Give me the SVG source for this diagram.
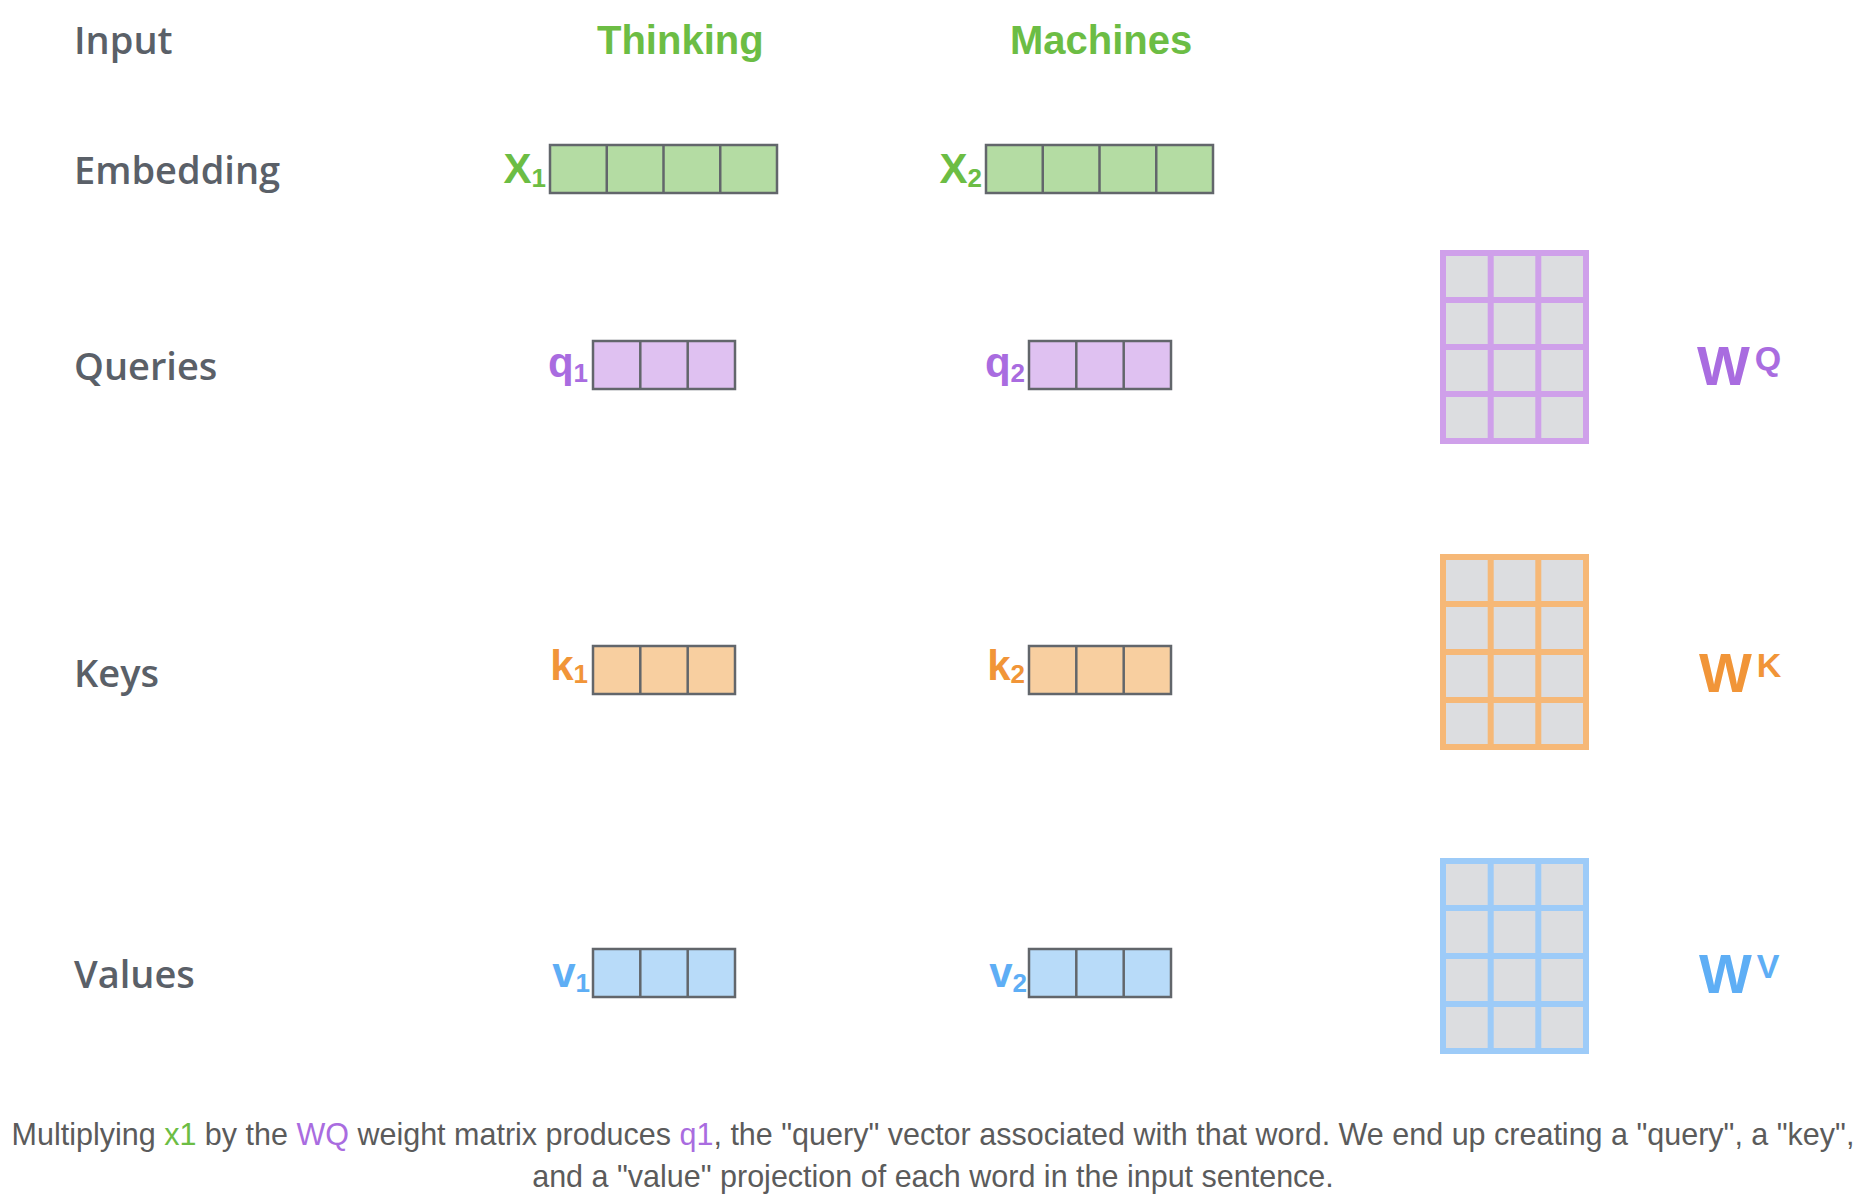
<svg xmlns="http://www.w3.org/2000/svg" width="1868" height="1198" viewBox="0 0 1868 1198">
<style>
.row{font-family:"Open Sans","Liberation Sans",sans-serif;font-weight:600;font-size:38px;fill:#5a6068}
.word{font-family:"Liberation Sans",Arial,sans-serif;font-weight:bold;font-size:40px;fill:#6cbd44}
.lbl{font-family:"Liberation Sans",Arial,sans-serif;font-weight:bold;font-size:42px}
.sub{font-size:26px}
.wl{font-family:"Liberation Sans",Arial,sans-serif;font-weight:bold;font-size:56px}
.sup{font-size:34px}
.vec{stroke:#62666b;stroke-width:2.5}
.grid{stroke:#62666b;stroke-width:2.5}
.g{fill:#b4dca3}.p{fill:#dfc1f1}.o{fill:#f8cfa0}.b{fill:#b8dbf9}
.tg{fill:#6cbd44}.tp{fill:#a96ce0}.to{fill:#f19538}.tb{fill:#5eaef5}
.mat{fill:#dcdde0;stroke-width:6}
.cap{font-family:"Liberation Sans",Arial,sans-serif;font-size:30.5px;fill:#5b5b5b}
</style>

<g id="row-labels">
<text class="row" x="74" y="54">Input</text>
<text class="row" x="74" y="184">Embedding</text>
<text class="row" x="74" y="380">Queries</text>
<text class="row" x="74" y="687">Keys</text>
<text class="row" x="74" y="988">Values</text>
</g>

<g id="word-thinking"><text class="word" x="597" y="54">Thinking</text></g>
<g id="word-machines"><text class="word" x="1010" y="54">Machines</text></g>

<g id="x1">
<rect class="vec g" x="550" y="145" width="227" height="48"/>
<path class="grid" d="M606.75 145V193M663.5 145V193M720.25 145V193"/>
<text class="lbl tg" x="546" y="183" text-anchor="end">X<tspan class="sub" dy="4">1</tspan></text>
</g>
<g id="x2">
<rect class="vec g" x="986" y="145" width="227" height="48"/>
<path class="grid" d="M1042.75 145V193M1099.5 145V193M1156.25 145V193"/>
<text class="lbl tg" x="982" y="183" text-anchor="end">X<tspan class="sub" dy="4">2</tspan></text>
</g>

<g id="q1">
<rect class="vec p" x="593" y="341" width="142" height="48"/>
<path class="grid" d="M640.3 341V389M687.7 341V389"/>
<text class="lbl tp" x="588" y="377" text-anchor="end">q<tspan class="sub" dy="5">1</tspan></text>
</g>
<g id="q2">
<rect class="vec p" x="1029" y="341" width="142" height="48"/>
<path class="grid" d="M1076.3 341V389M1123.7 341V389"/>
<text class="lbl tp" x="1025" y="377" text-anchor="end">q<tspan class="sub" dy="5">2</tspan></text>
</g>

<g id="k1">
<rect class="vec o" x="593" y="646" width="142" height="48"/>
<path class="grid" d="M640.3 646V694M687.7 646V694"/>
<text class="lbl to" x="588" y="680" text-anchor="end">k<tspan class="sub" dy="3">1</tspan></text>
</g>
<g id="k2">
<rect class="vec o" x="1029" y="646" width="142" height="48"/>
<path class="grid" d="M1076.3 646V694M1123.7 646V694"/>
<text class="lbl to" x="1025" y="680" text-anchor="end">k<tspan class="sub" dy="3">2</tspan></text>
</g>

<g id="v1">
<rect class="vec b" x="593" y="949" width="142" height="48"/>
<path class="grid" d="M640.3 949V997M687.7 949V997"/>
<text class="lbl tb" x="590" y="987" text-anchor="end">v<tspan class="sub" dy="5">1</tspan></text>
</g>
<g id="v2">
<rect class="vec b" x="1029" y="949" width="142" height="48"/>
<path class="grid" d="M1076.3 949V997M1123.7 949V997"/>
<text class="lbl tb" x="1027" y="987" text-anchor="end">v<tspan class="sub" dy="5">2</tspan></text>
</g>

<g id="wq">
<rect class="mat" stroke="#cfa0ea" x="1443" y="253" width="143" height="188"/>
<path stroke="#cfa0ea" stroke-width="6" d="M1490.7 253V441M1538.3 253V441M1443 300H1586M1443 347H1586M1443 394H1586"/>
<text class="wl tp" x="1697" y="385">W<tspan class="sup" dx="5" dy="-15">Q</tspan></text>
</g>
<g id="wk">
<rect class="mat" stroke="#f6b877" x="1443" y="557" width="143" height="190"/>
<path stroke="#f6b877" stroke-width="6" d="M1490.7 557V747M1538.3 557V747M1443 604H1586M1443 652H1586M1443 700H1586"/>
<text class="wl to" x="1699" y="692">W<tspan class="sup" dx="5" dy="-15">K</tspan></text>
</g>
<g id="wv">
<rect class="mat" stroke="#9dcbf8" x="1443" y="861" width="143" height="190"/>
<path stroke="#9dcbf8" stroke-width="6" d="M1490.7 861V1051M1538.3 861V1051M1443 908H1586M1443 956H1586M1443 1004H1586"/>
<text class="wl tb" x="1699" y="993">W<tspan class="sup" dx="5" dy="-15">V</tspan></text>
</g>

<g id="caption">
<text class="cap" x="933" y="1145" text-anchor="middle">Multiplying <tspan class="tg">x1</tspan> by the <tspan class="tp">WQ</tspan> weight matrix produces <tspan class="tp">q1</tspan>, the "query" vector associated with that word. We end up creating a "query", a "key",</text>
<text class="cap" x="933" y="1187" text-anchor="middle">and a "value" projection of each word in the input sentence.</text>
</g>
</svg>
